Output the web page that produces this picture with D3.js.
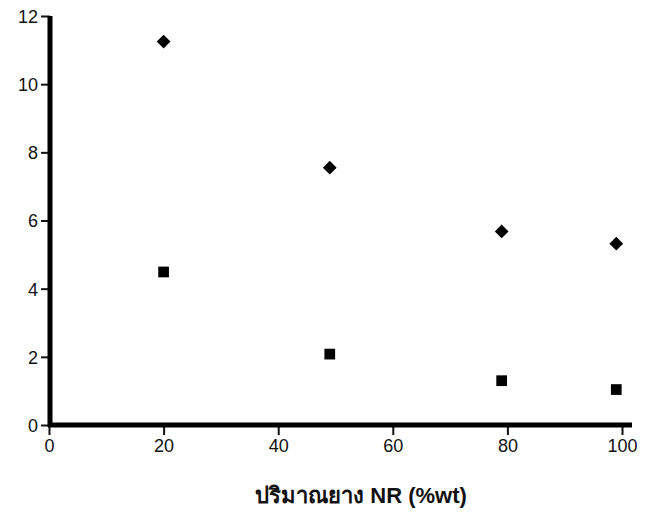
<!DOCTYPE html>
<html lang="th">
<head>
<meta charset="UTF-8">
<title>NR content</title>
<script src="https://d3js.org/d3.v7.min.js"></script>
<style>
    body { margin: 0; background: #fff; }
    svg text { font-family: "Liberation Sans", Arial, sans-serif; fill: #111; }
</style>
</head>
<body>
<svg width="652" height="512"></svg>
<script>
    // values
    const nrContent = [20, 49, 79, 99];
    const diamondSeries = [11.25, 7.55, 5.68, 5.32];
    const squareSeries = [4.49, 2.08, 1.3, 1.04];
    const xTicks = [0, 20, 40, 60, 80, 100];
    const yTicks = [0, 2, 4, 6, 8, 10, 12];
    const xTitle = "ปริมาณยาง NR (%wt)";

    const svg = d3.select("svg");

    const x = d3.scaleLinear().domain([0, 100]).range([49, 622]);
    const y = d3.scaleLinear().domain([0, 12]).range([425, 16]);

    // y axis
    const yAxis = svg.append("g").attr("transform", "translate(50,0)")
        .call(d3.axisLeft(y).tickValues(yTicks).tickSize(9).tickPadding(3).tickFormat(d3.format("d")));
    yAxis.select(".domain").remove();
    yAxis.selectAll(".tick line").attr("stroke", "#111").attr("stroke-width", 2);
    yAxis.selectAll(".tick text").attr("font-size", 18).attr("dy", "0.36em");

    // x axis
    const xAxis = svg.append("g").attr("transform", "translate(0,426)")
        .call(d3.axisBottom(x).tickValues(xTicks).tickSize(9).tickPadding(4).tickFormat(d3.format("d")));
    xAxis.select(".domain").remove();
    xAxis.selectAll(".tick line").attr("stroke", "#111").attr("stroke-width", 2);
    xAxis.selectAll(".tick text").attr("font-size", 18);

    // thick axis lines
    svg.append("line")
        .attr("x1", 50).attr("x2", 50)
        .attr("y1", y(12)).attr("y2", y(0) + 2)
        .attr("stroke", "#000").attr("stroke-width", 5);
    svg.append("line")
        .attr("x1", 48).attr("x2", 632)
        .attr("y1", y(0)).attr("y2", y(0))
        .attr("stroke", "#000").attr("stroke-width", 5);

    // points
    const diamond = d3.symbol().type(d3.symbolDiamond2).size(120);
    const square = d3.symbol().type(d3.symbolSquare).size(115);

    svg.append("g").selectAll("path")
        .data(nrContent)
        .join("path")
        .attr("d", diamond)
        .attr("transform", (d, i) => `translate(${x(d)},${y(diamondSeries[i])})`)
        .attr("fill", "#000");

    svg.append("g").selectAll("path")
        .data(nrContent)
        .join("path")
        .attr("d", square)
        .attr("transform", (d, i) => `translate(${x(d)},${y(squareSeries[i])})`)
        .attr("fill", "#000");

    // axis title
    svg.append("text")
        .attr("x", 361).attr("y", 503)
        .attr("text-anchor", "middle")
        .attr("font-size", 22)
        .attr("font-weight", "bold")
        .text(xTitle);
</script>
</body>
</html>
